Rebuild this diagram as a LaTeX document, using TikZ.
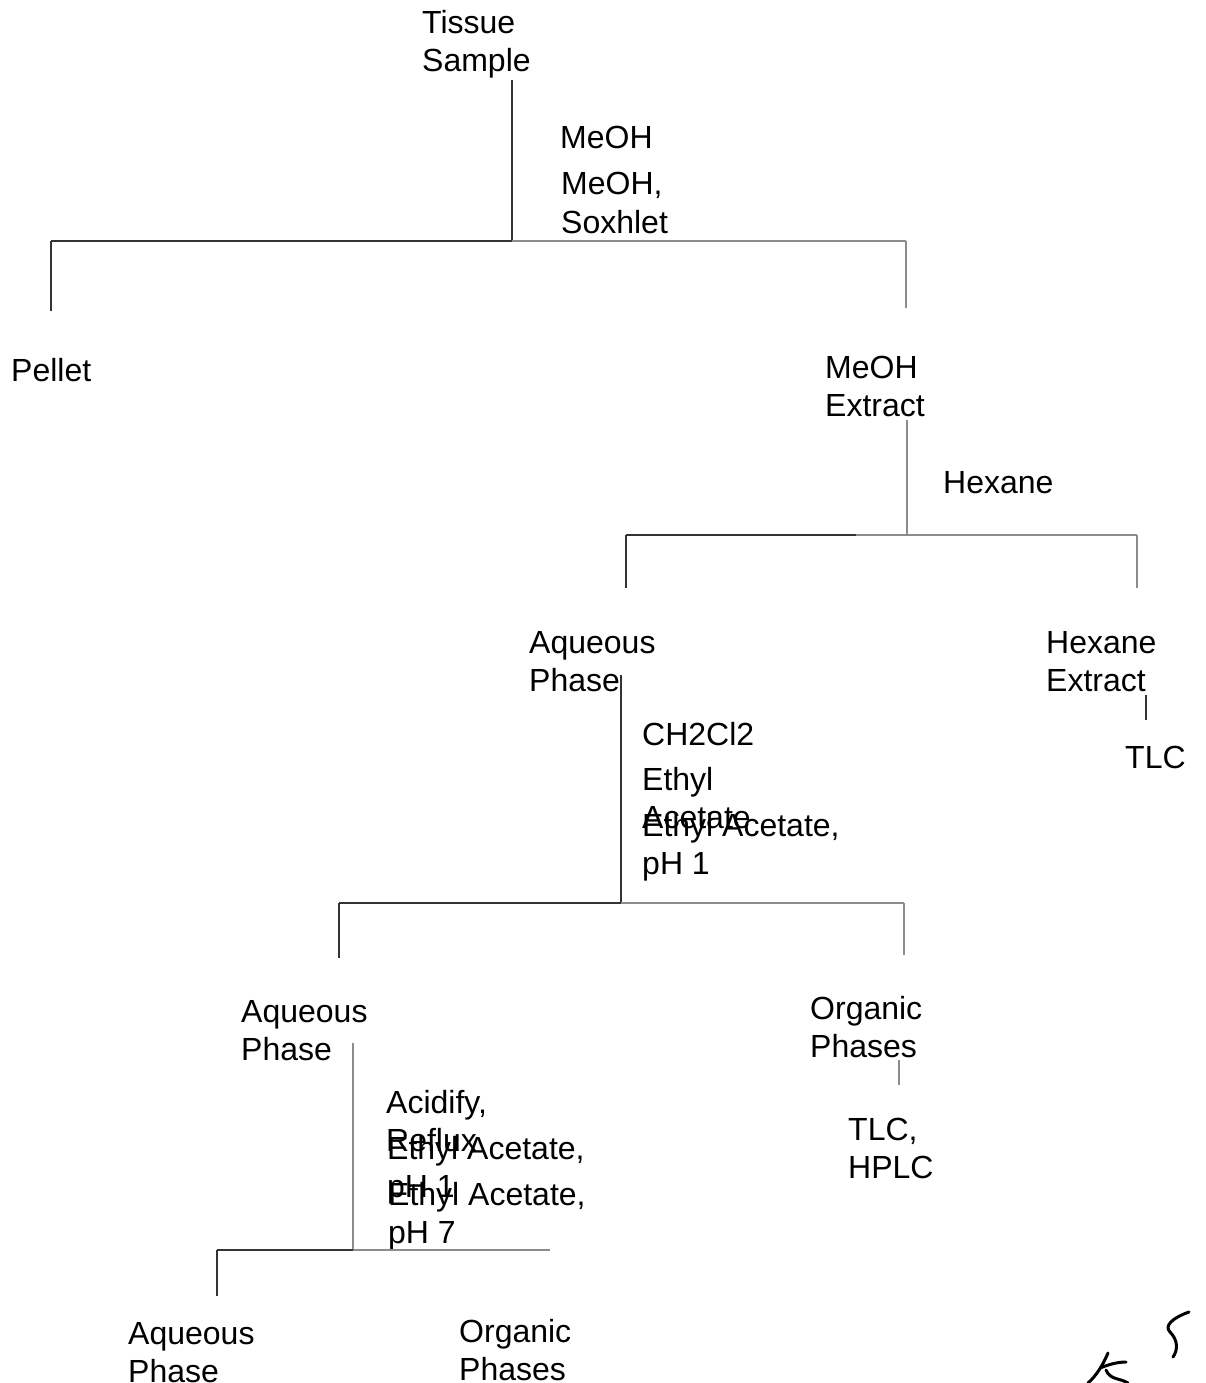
\documentclass[tikz,border=0pt]{standalone}
\usepackage{fontspec}
\setmainfont{Liberation Sans}
\usetikzlibrary{calc}
\begin{document}
\begin{tikzpicture}[x=1pt,y=-1pt,
  lbl/.style={anchor=base west,inner sep=0pt,font=\fontsize{32}{38}\selectfont},
  link/.style={draw=black!80,line width=1.3pt},
  faint/.style={draw=black!45,line width=1.1pt},
  hand/.style={draw=black,line width=3pt,line cap=round}]
\useasboundingbox (0,0) rectangle (1205,1383);
\clip (0,0) rectangle (1205,1383);
% labels
\node[lbl] (ts1) at (422,34) {Tissue};
\node[lbl] (ts2) at (422,72) {Sample};
\node[lbl] (m1) at (560,149) {MeOH};
\node[lbl] (m2) at (561,195) {MeOH,};
\node[lbl] (m3) at (561,233) {Soxhlet};
\node[lbl] (pel) at (11,381) {Pellet};
\node[lbl] (me1) at (825,378) {MeOH};
\node[lbl] (me2) at (825,416) {Extract};
\node[lbl] (hex) at (943,493) {Hexane};
\node[lbl] (aq1) at (529,653) {Aqueous};
\node[lbl] (aq2) at (529,691) {Phase};
\node[lbl] (he1) at (1046,653) {Hexane};
\node[lbl] (he2) at (1046,691) {Extract};
\node[lbl] (tlc1) at (1125,768) {TLC};
\node[lbl] (ch) at (642,745) {CH2Cl2};
\node[lbl] (ea1) at (642,790) {Ethyl};
\node[lbl] (ea2) at (642,828) {Acetate};
\node[lbl] (eb1) at (642,836) {Ethyl Acetate,};
\node[lbl] (eb2) at (642,874) {pH 1};
\node[lbl] (aqb1) at (241,1022) {Aqueous};
\node[lbl] (aqb2) at (241,1060) {Phase};
\node[lbl] (or1) at (810,1019) {Organic};
\node[lbl] (or2) at (810,1057) {Phases};
\node[lbl] (tl2) at (848,1140) {TLC,};
\node[lbl] (tl3) at (848,1178) {HPLC};
\node[lbl] (ac1) at (386,1113) {Acidify,};
\node[lbl] (ac2) at (386,1151) {Reflux};
\node[lbl] (ec1) at (387,1159) {Ethyl Acetate,};
\node[lbl] (ec2) at (387,1197) {pH 1};
\node[lbl] (ed1) at (388,1205) {Ethyl Acetate,};
\node[lbl] (ed2) at (388,1243) {pH 7};
\node[lbl] (aqc1) at (128,1344) {Aqueous};
\node[lbl] (aqc2) at (128,1382) {Phase};
\node[lbl] (orc1) at (459,1342) {Organic};
\node[lbl] (orc2) at (459,1380) {Phases};
% tree coordinates
\coordinate (t0) at (512,80);
\coordinate (t1) at (512,241);
\coordinate (hL) at (51,241);
\coordinate (hR) at (906,241);
\coordinate (dL) at (51,311);
\coordinate (dR) at (906,308);
\coordinate (u0) at (907,420);
\coordinate (u1) at (907,535);
\coordinate (uL) at (626,535);
\coordinate (uM) at (856,535);
\coordinate (uR) at (1137,535);
\coordinate (uLd) at (626,588);
\coordinate (uRd) at (1137,588);
\coordinate (v0) at (621,675);
\coordinate (v1) at (621,903);
\coordinate (vL) at (339,903);
\coordinate (vR) at (904,903);
\coordinate (vLd) at (339,958);
\coordinate (vRd) at (904,955);
\coordinate (x0) at (1146,695);
\coordinate (x1) at (1146,720);
\coordinate (y0) at (899,1060);
\coordinate (y1) at (899,1085);
\coordinate (w0) at (353,1043);
\coordinate (w1) at (353,1250);
\coordinate (wL) at (217,1250);
\coordinate (wR) at (550,1250);
\coordinate (wLd) at (217,1296);
% lines
\draw[link] (t0) -- (t1);
\draw[link] (hL) -- (t1);
\draw[faint] (t1) -- (hR);
\draw[link] (hL) -- (dL);
\draw[faint] (hR) -- (dR);
\draw[faint] (u0) -- (u1);
\draw[link] (uL) -- (uM);
\draw[faint] (uM) -- (uR);
\draw[link] (uL) -- (uLd);
\draw[faint] (uR) -- (uRd);
\draw[link] (v0) -- (v1);
\draw[link] (vL) -- (v1);
\draw[faint] (v1) -- (vR);
\draw[link] (vL) -- (vLd);
\draw[faint] (vR) -- (vRd);
\draw[link] (x0) -- (x1);
\draw[faint] (y0) -- (y1);
\draw[faint] (w0) -- (w1);
\draw[link] (wL) -- (w1);
\draw[faint] (w1) -- (wR);
\draw[link] (wL) -- (wLd);
% handwritten marks
\draw[hand] (1189,1312) .. controls (1172,1318) and (1164,1326) .. (1170,1332) .. controls (1178,1340) and (1178,1350) .. (1173,1357);
\draw[hand] (1108,1353) .. controls (1103,1365) and (1096,1376) .. (1088,1383);
\draw[hand] (1100,1368) .. controls (1110,1364) and (1118,1362) .. (1126,1362);
\draw[hand] (1106,1370) .. controls (1110,1380) and (1120,1378) .. (1128,1383);
\end{tikzpicture}
\end{document}
